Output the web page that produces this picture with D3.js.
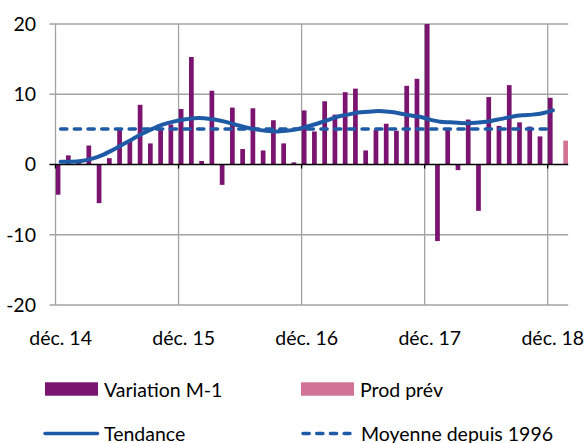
<!DOCTYPE html>
<html>
<head>
<meta charset="utf-8">
<script src="https://cdn.jsdelivr.net/npm/d3@7"></script>
<style>
  body { margin: 0; background: #fff; }
  svg { display: block; font-family: Lato, "Open Sans", sans-serif; }
  .tick-label { font-size: 19.5px; fill: #000; }
  .legend-label { font-size: 19.5px; fill: #000; }
</style>
</head>
<body>
<div id="chart"></div>
<script>
// months from déc. 14 to janv. 19
const monthNames = ["janv.", "févr.", "mars", "avr.", "mai", "juin", "juil.", "août", "sept.", "oct.", "nov.", "déc."];
const months = [];
for (let k = 0; k < 50; k++) {
    let m = (11 + k) % 12, yr = 14 + Math.floor((11 + k) / 12);
    months.push(monthNames[m] + " " + yr);
}

const xTickLabels = ["déc. 14", "déc. 15", "déc. 16", "déc. 17", "déc. 18"];
const yTicks = [-20, -10, 0, 10, 20];

// monthly change (%), déc. 14 -> déc. 18
const variation = [
    -4.3, 1.3, 0.4, 2.7, -5.5, 0.9, 5.0, 3.3, 8.5, 3.0, 4.9, 5.7,
    7.9, 15.3, 0.5, 10.5, -2.9, 8.1, 2.2, 8.0, 2.0, 6.3, 3.0, 0.3,
    7.7, 4.7, 9.0, 7.1, 10.3, 10.8, 2.0, 4.9, 5.8, 4.8, 11.2, 12.2,
    21.0, -10.9, 5.0, -0.8, 6.4, -6.6, 9.6, 5.5, 11.3, 6.0, 5.4, 4.0,
    9.5
];
// forecast, janv. 19 only
const prodPrev = [{month: "janv. 19", value: 3.4}];

const tendance = [
    0.4, 0.4, 0.5, 0.8, 1.3, 2.0, 2.8, 3.6, 4.4, 5.1, 5.7, 6.1,
    6.4, 6.6, 6.6, 6.4, 6.1, 5.7, 5.3, 5.0, 4.8, 4.7, 4.8, 5.0,
    5.4, 5.8, 6.3, 6.8, 7.1, 7.4, 7.5, 7.6, 7.5, 7.3, 7.0, 6.8,
    6.4, 6.1, 6.0, 5.9, 5.9, 6.0, 6.2, 6.5, 6.8, 7.0, 7.1, 7.3,
    7.7
];
const moyenne = 5.05;

const colors = {bar: "#7B1370", prev: "#D27295", line: "#1F5AA6", grid: "#A3A3A3"};

const width = 586, height = 443;
const plot = {left: 55.5, right: 568.2, top: 24, bottom: 305};

const svg = d3.select("#chart").append("svg")
    .attr("width", width)
    .attr("height", height);

const x = d3.scaleBand()
    .domain(months)
    .range([plot.left, plot.right])
    .padding(0);
const bw = x.bandwidth();

const y = d3.scaleLinear()
    .domain([-20, 20])
    .range([plot.bottom, plot.top]);

svg.append("clipPath").attr("id", "clip")
    .append("rect")
    .attr("x", plot.left).attr("y", plot.top)
    .attr("width", plot.right - plot.left).attr("height", plot.bottom - plot.top);

// horizontal gridlines (with tick stubs on the left)
svg.append("g").selectAll("line")
    .data(yTicks.filter(d => d !== 0))
    .join("line")
    .attr("x1", plot.left - 6).attr("x2", plot.right)
    .attr("y1", d => y(d)).attr("y2", d => y(d))
    .attr("stroke", colors.grid).attr("stroke-width", 1.3);

// vertical gridlines at each december boundary
const xTickMonths = xTickLabels;
svg.append("g").selectAll("line")
    .data(xTickMonths)
    .join("line")
    .attr("x1", d => x(d)).attr("x2", d => x(d))
    .attr("y1", plot.top).attr("y2", plot.bottom)
    .attr("stroke", colors.grid).attr("stroke-width", 1.3);

// bars
const barW = bw * 0.46;
const bars = svg.append("g").attr("clip-path", "url(#clip)");
bars.selectAll("rect.var")
    .data(variation)
    .join("rect")
    .attr("class", "var")
    .attr("x", (d, i) => x(months[i]) + bw * 0.25 - barW / 2)
    .attr("y", d => y(Math.max(0, d)))
    .attr("width", barW)
    .attr("height", d => Math.abs(y(d) - y(0)))
    .attr("fill", colors.bar);

bars.selectAll("rect.prev")
    .data(prodPrev)
    .join("rect")
    .attr("class", "prev")
    .attr("x", d => x(d.month) + bw * 0.75 - barW / 2)
    .attr("y", d => y(Math.max(0, d.value)))
    .attr("width", barW)
    .attr("height", d => Math.abs(y(d.value) - y(0)))
    .attr("fill", colors.prev);

// zero axis line + ticks
svg.append("line")
    .attr("x1", plot.left - 6).attr("x2", plot.right)
    .attr("y1", y(0)).attr("y2", y(0))
    .attr("stroke", "#000").attr("stroke-width", 1.3);
svg.append("g").selectAll("line")
    .data(xTickMonths)
    .join("line")
    .attr("x1", d => x(d)).attr("x2", d => x(d))
    .attr("y1", y(0)).attr("y2", y(0) + 4)
    .attr("stroke", "#000").attr("stroke-width", 1.3);

// trend
const lineGen = d3.line()
    .x((d, i) => x(months[i]) + bw / 2)
    .y(d => y(d))
    .curve(d3.curveCatmullRom);

svg.append("path")
    .datum(tendance)
    .attr("d", lineGen)
    .attr("fill", "none")
    .attr("stroke", colors.line)
    .attr("stroke-width", 4)
    .attr("stroke-linecap", "round");

// long-run average
svg.append("path")
    .datum(variation.map(() => moyenne))
    .attr("d", lineGen.curve(d3.curveLinear))
    .attr("fill", "none")
    .attr("stroke", colors.line)
    .attr("stroke-width", 3.5)
    .attr("stroke-linecap", "round")
    .attr("stroke-dasharray", "6.2,7.5");

// y labels
svg.append("g").selectAll("text")
    .data(yTicks)
    .join("text")
    .attr("class", "tick-label")
    .attr("x", 36)
    .attr("y", d => y(d))
    .attr("dy", "0.35em")
    .attr("text-anchor", "end")
    .text(d => d);

// x labels
svg.append("g").selectAll("text")
    .data(xTickLabels)
    .join("text")
    .attr("class", "tick-label")
    .attr("x", d => x(d) + bw / 2)
    .attr("y", 345)
    .attr("text-anchor", "middle")
    .text(d => d);

// legend
const legend = svg.append("g").attr("class", "legend");
legend.append("rect").attr("x", 45).attr("y", 382.3).attr("width", 53).attr("height", 13.4).attr("fill", colors.bar);
legend.append("text").attr("class", "legend-label").attr("x", 104).attr("y", 396.7).text("Variation M-1");

legend.append("rect").attr("x", 301).attr("y", 382.3).attr("width", 53).attr("height", 13.4).attr("fill", colors.prev);
legend.append("text").attr("class", "legend-label").attr("x", 360).attr("y", 396.7).text("Prod prév");

legend.append("line").attr("x1", 45).attr("x2", 97.5).attr("y1", 433.5).attr("y2", 433.5)
    .attr("stroke", colors.line).attr("stroke-width", 3.5).attr("stroke-linecap", "round");
legend.append("text").attr("class", "legend-label").attr("x", 104).attr("y", 440.5).text("Tendance");

legend.append("line").attr("x1", 303).attr("x2", 350).attr("y1", 433.5).attr("y2", 433.5)
    .attr("stroke", colors.line).attr("stroke-width", 3.5).attr("stroke-linecap", "round")
    .attr("stroke-dasharray", "6.2,7.5");
legend.append("text").attr("class", "legend-label").attr("x", 361).attr("y", 440.5).text("Moyenne depuis 1996");
</script>
</body>
</html>
